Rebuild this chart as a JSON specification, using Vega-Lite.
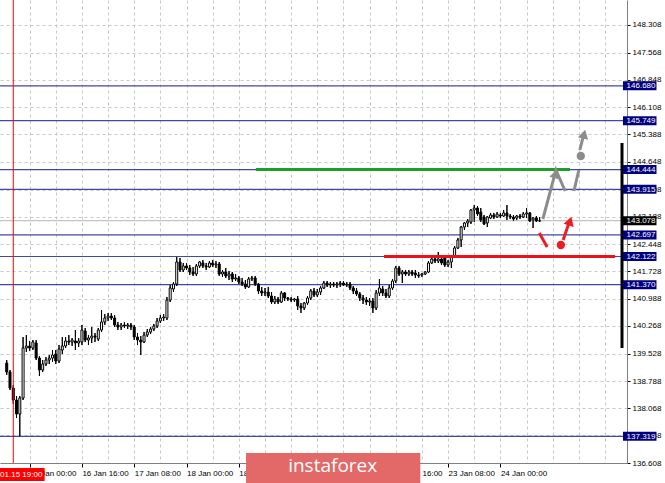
{
  "$schema": "https://vega.github.io/schema/vega-lite/v6.json",
  "width": 627,
  "height": 463,
  "autosize": {"type": "none"},
  "padding": {"left": 0, "top": 0, "right": 38, "bottom": 20},
  "background": "#ffffff",
  "config": {
    "view": {"stroke": null},
    "axis": {"labelFont": "Liberation Sans", "labelFontSize": 8, "labelColor": "#000000", "title": null}
  },
  "resolve": {"axis": {"x": "independent", "y": "independent"}, "scale": {"color": "independent", "fill": "independent"}},
  "datasets": {
    "candles": [
      {"t":-7,"o":139.278,"h":139.358,"l":138.958,"c":139.038},
      {"t":-6,"o":139.038,"h":139.091,"l":138.557,"c":138.611},
      {"t":-5,"o":138.611,"h":138.691,"l":138.183,"c":138.290},
      {"t":-4,"o":138.290,"h":138.397,"l":137.810,"c":137.916},
      {"t":-3,"o":137.916,"h":138.397,"l":137.319,"c":138.344},
      {"t":-2,"o":138.344,"h":139.972,"l":138.290,"c":139.678},
      {"t":-1,"o":139.678,"h":140.025,"l":139.572,"c":139.732},
      {"t":0,"o":139.732,"h":139.865,"l":139.598,"c":139.678},
      {"t":1,"o":139.678,"h":139.892,"l":139.625,"c":139.839},
      {"t":2,"o":139.812,"h":139.892,"l":139.358,"c":139.411},
      {"t":3,"o":139.411,"h":139.465,"l":138.931,"c":139.091},
      {"t":4,"o":139.091,"h":139.358,"l":139.038,"c":139.251},
      {"t":5,"o":139.251,"h":139.438,"l":139.198,"c":139.358},
      {"t":6,"o":139.358,"h":139.491,"l":139.251,"c":139.411},
      {"t":7,"o":139.411,"h":139.625,"l":139.305,"c":139.491},
      {"t":8,"o":139.518,"h":139.625,"l":139.251,"c":139.331},
      {"t":9,"o":139.331,"h":139.758,"l":139.278,"c":139.652},
      {"t":10,"o":139.625,"h":139.972,"l":139.518,"c":139.732},
      {"t":11,"o":139.732,"h":139.972,"l":139.678,"c":139.865},
      {"t":12,"o":139.865,"h":140.025,"l":139.758,"c":139.839},
      {"t":13,"o":139.839,"h":139.945,"l":139.732,"c":139.892},
      {"t":14,"o":139.865,"h":140.159,"l":139.625,"c":139.812},
      {"t":15,"o":139.812,"h":139.945,"l":139.705,"c":139.865},
      {"t":16,"o":139.839,"h":140.293,"l":139.758,"c":140.159},
      {"t":17,"o":140.132,"h":140.213,"l":139.839,"c":139.892},
      {"t":18,"o":139.892,"h":140.025,"l":139.758,"c":139.945},
      {"t":19,"o":139.945,"h":140.239,"l":139.812,"c":139.999},
      {"t":20,"o":139.999,"h":140.079,"l":139.839,"c":139.972},
      {"t":21,"o":139.919,"h":140.213,"l":139.865,"c":140.159},
      {"t":22,"o":140.159,"h":140.693,"l":140.106,"c":140.373},
      {"t":23,"o":140.373,"h":140.587,"l":140.293,"c":140.480},
      {"t":24,"o":140.480,"h":140.613,"l":140.400,"c":140.533},
      {"t":25,"o":140.533,"h":140.613,"l":140.426,"c":140.480},
      {"t":26,"o":140.480,"h":140.560,"l":140.239,"c":140.293},
      {"t":27,"o":140.293,"h":140.373,"l":140.159,"c":140.239},
      {"t":28,"o":140.239,"h":140.346,"l":140.159,"c":140.293},
      {"t":29,"o":140.293,"h":140.373,"l":140.213,"c":140.266},
      {"t":30,"o":140.266,"h":140.346,"l":140.186,"c":140.293},
      {"t":31,"o":140.293,"h":140.346,"l":140.159,"c":140.239},
      {"t":32,"o":140.239,"h":140.293,"l":139.892,"c":139.972},
      {"t":33,"o":139.972,"h":140.079,"l":139.758,"c":139.892},
      {"t":34,"o":139.892,"h":139.999,"l":139.491,"c":139.839},
      {"t":35,"o":139.839,"h":140.106,"l":139.812,"c":140.025},
      {"t":36,"o":140.025,"h":140.186,"l":139.972,"c":140.106},
      {"t":37,"o":140.106,"h":140.239,"l":140.052,"c":140.186},
      {"t":38,"o":140.186,"h":140.320,"l":140.132,"c":140.266},
      {"t":39,"o":140.266,"h":140.480,"l":140.213,"c":140.400},
      {"t":40,"o":140.400,"h":140.560,"l":140.346,"c":140.480},
      {"t":41,"o":140.480,"h":140.587,"l":140.400,"c":140.506},
      {"t":42,"o":140.480,"h":141.041,"l":140.426,"c":140.960},
      {"t":43,"o":140.960,"h":141.361,"l":140.907,"c":141.281},
      {"t":44,"o":141.254,"h":141.441,"l":141.174,"c":141.388},
      {"t":45,"o":141.388,"h":142.108,"l":141.334,"c":141.975},
      {"t":46,"o":141.975,"h":142.082,"l":141.708,"c":141.762},
      {"t":47,"o":141.762,"h":141.949,"l":141.708,"c":141.869},
      {"t":48,"o":141.869,"h":141.949,"l":141.762,"c":141.815},
      {"t":49,"o":141.815,"h":141.895,"l":141.628,"c":141.708},
      {"t":50,"o":141.708,"h":141.842,"l":141.602,"c":141.655},
      {"t":51,"o":141.655,"h":141.922,"l":141.602,"c":141.869},
      {"t":52,"o":141.869,"h":142.002,"l":141.815,"c":141.975},
      {"t":53,"o":141.949,"h":142.029,"l":141.815,"c":141.869},
      {"t":54,"o":141.869,"h":141.949,"l":141.762,"c":141.842},
      {"t":55,"o":141.842,"h":142.002,"l":141.815,"c":141.949},
      {"t":56,"o":141.949,"h":142.029,"l":141.842,"c":141.895},
      {"t":57,"o":141.895,"h":142.002,"l":141.815,"c":141.922},
      {"t":58,"o":141.922,"h":141.975,"l":141.602,"c":141.655},
      {"t":59,"o":141.655,"h":141.762,"l":141.575,"c":141.708},
      {"t":60,"o":141.708,"h":141.815,"l":141.548,"c":141.602},
      {"t":61,"o":141.602,"h":141.735,"l":141.494,"c":141.655},
      {"t":62,"o":141.655,"h":141.708,"l":141.441,"c":141.521},
      {"t":63,"o":141.521,"h":141.655,"l":141.468,"c":141.548},
      {"t":64,"o":141.548,"h":141.602,"l":141.388,"c":141.441},
      {"t":65,"o":141.441,"h":141.548,"l":141.334,"c":141.388},
      {"t":66,"o":141.388,"h":141.494,"l":141.254,"c":141.308},
      {"t":67,"o":141.308,"h":141.575,"l":141.281,"c":141.521},
      {"t":68,"o":141.521,"h":141.602,"l":141.468,"c":141.548},
      {"t":69,"o":141.548,"h":141.602,"l":141.334,"c":141.388},
      {"t":70,"o":141.388,"h":141.414,"l":141.121,"c":141.201},
      {"t":71,"o":141.201,"h":141.308,"l":141.067,"c":141.147},
      {"t":72,"o":141.147,"h":141.281,"l":141.067,"c":141.174},
      {"t":73,"o":141.174,"h":141.308,"l":141.014,"c":141.067},
      {"t":74,"o":141.067,"h":141.174,"l":140.854,"c":140.907},
      {"t":75,"o":140.907,"h":141.067,"l":140.854,"c":140.987},
      {"t":76,"o":140.987,"h":141.041,"l":140.854,"c":140.907},
      {"t":77,"o":140.907,"h":141.201,"l":140.880,"c":141.147},
      {"t":78,"o":141.147,"h":141.174,"l":140.934,"c":141.014},
      {"t":79,"o":141.014,"h":141.041,"l":140.934,"c":140.987},
      {"t":80,"o":140.987,"h":141.041,"l":140.907,"c":140.960},
      {"t":81,"o":140.960,"h":141.014,"l":140.907,"c":140.987},
      {"t":82,"o":140.987,"h":141.067,"l":140.693,"c":140.800},
      {"t":83,"o":140.800,"h":140.880,"l":140.613,"c":140.747},
      {"t":84,"o":140.747,"h":140.907,"l":140.693,"c":140.880},
      {"t":85,"o":140.880,"h":141.067,"l":140.827,"c":141.014},
      {"t":86,"o":141.014,"h":141.254,"l":140.960,"c":141.201},
      {"t":87,"o":141.201,"h":141.281,"l":141.041,"c":141.094},
      {"t":88,"o":141.094,"h":141.254,"l":141.041,"c":141.174},
      {"t":89,"o":141.174,"h":141.334,"l":141.094,"c":141.281},
      {"t":90,"o":141.281,"h":141.468,"l":141.254,"c":141.414},
      {"t":91,"o":141.414,"h":141.468,"l":141.308,"c":141.361},
      {"t":92,"o":141.361,"h":141.441,"l":141.281,"c":141.388},
      {"t":93,"o":141.388,"h":141.441,"l":141.308,"c":141.361},
      {"t":94,"o":141.361,"h":141.441,"l":141.281,"c":141.388},
      {"t":95,"o":141.388,"h":141.468,"l":141.308,"c":141.414},
      {"t":96,"o":141.414,"h":141.468,"l":141.334,"c":141.361},
      {"t":97,"o":141.361,"h":141.441,"l":141.308,"c":141.388},
      {"t":98,"o":141.388,"h":141.441,"l":141.227,"c":141.281},
      {"t":99,"o":141.281,"h":141.334,"l":141.121,"c":141.201},
      {"t":100,"o":141.201,"h":141.281,"l":141.067,"c":141.121},
      {"t":101,"o":141.121,"h":141.174,"l":140.934,"c":141.014},
      {"t":102,"o":141.014,"h":141.094,"l":140.854,"c":140.960},
      {"t":103,"o":140.960,"h":141.041,"l":140.827,"c":140.907},
      {"t":104,"o":140.907,"h":141.014,"l":140.800,"c":140.934},
      {"t":105,"o":140.934,"h":141.014,"l":140.613,"c":140.747},
      {"t":106,"o":140.747,"h":141.227,"l":140.693,"c":141.147},
      {"t":107,"o":141.147,"h":141.521,"l":141.067,"c":141.281},
      {"t":108,"o":141.254,"h":141.334,"l":141.067,"c":141.147},
      {"t":109,"o":141.147,"h":141.254,"l":141.014,"c":141.067},
      {"t":110,"o":141.067,"h":141.361,"l":141.014,"c":141.281},
      {"t":111,"o":141.281,"h":141.521,"l":141.227,"c":141.468},
      {"t":112,"o":141.468,"h":141.869,"l":141.414,"c":141.815},
      {"t":113,"o":141.815,"h":141.869,"l":141.602,"c":141.655},
      {"t":114,"o":141.655,"h":141.762,"l":141.414,"c":141.708},
      {"t":115,"o":141.708,"h":141.762,"l":141.602,"c":141.655},
      {"t":116,"o":141.655,"h":141.762,"l":141.602,"c":141.708},
      {"t":117,"o":141.708,"h":141.762,"l":141.602,"c":141.655},
      {"t":118,"o":141.682,"h":141.762,"l":141.548,"c":141.628},
      {"t":119,"o":141.628,"h":141.708,"l":141.548,"c":141.602},
      {"t":120,"o":141.628,"h":141.682,"l":141.575,"c":141.655},
      {"t":121,"o":141.655,"h":141.735,"l":141.628,"c":141.708},
      {"t":122,"o":141.708,"h":142.002,"l":141.682,"c":141.949},
      {"t":123,"o":141.949,"h":142.108,"l":141.922,"c":142.055},
      {"t":124,"o":142.055,"h":142.108,"l":141.949,"c":142.002},
      {"t":125,"o":142.002,"h":142.242,"l":141.949,"c":142.055},
      {"t":126,"o":142.055,"h":142.108,"l":141.895,"c":141.949},
      {"t":127,"o":142.082,"h":142.135,"l":141.842,"c":141.895},
      {"t":128,"o":141.895,"h":142.029,"l":141.842,"c":141.975},
      {"t":129,"o":141.975,"h":142.162,"l":141.815,"c":142.108},
      {"t":130,"o":142.108,"h":142.403,"l":142.082,"c":142.350},
      {"t":131,"o":142.350,"h":142.616,"l":142.323,"c":142.563},
      {"t":132,"o":142.563,"h":142.937,"l":142.376,"c":142.910},
      {"t":133,"o":142.910,"h":143.043,"l":142.830,"c":143.017},
      {"t":134,"o":143.017,"h":143.123,"l":142.910,"c":143.070},
      {"t":135,"o":143.043,"h":143.390,"l":142.990,"c":143.364},
      {"t":136,"o":143.364,"h":143.497,"l":143.043,"c":143.417},
      {"t":137,"o":143.417,"h":143.470,"l":143.203,"c":143.257},
      {"t":138,"o":143.310,"h":143.417,"l":143.043,"c":143.097},
      {"t":139,"o":143.177,"h":143.230,"l":142.963,"c":142.990},
      {"t":140,"o":143.017,"h":143.203,"l":142.910,"c":143.177},
      {"t":141,"o":143.150,"h":143.284,"l":143.123,"c":143.230},
      {"t":142,"o":143.230,"h":143.284,"l":143.123,"c":143.177},
      {"t":143,"o":143.177,"h":143.310,"l":143.150,"c":143.257},
      {"t":144,"o":143.230,"h":143.284,"l":143.150,"c":143.203},
      {"t":145,"o":143.203,"h":143.364,"l":143.177,"c":143.284},
      {"t":146,"o":143.284,"h":143.497,"l":143.097,"c":143.203},
      {"t":147,"o":143.203,"h":143.257,"l":143.123,"c":143.177},
      {"t":148,"o":143.177,"h":143.230,"l":143.070,"c":143.123},
      {"t":149,"o":143.150,"h":143.230,"l":143.097,"c":143.203},
      {"t":150,"o":143.203,"h":143.257,"l":143.123,"c":143.177},
      {"t":151,"o":143.177,"h":143.310,"l":143.150,"c":143.257},
      {"t":152,"o":143.257,"h":143.417,"l":143.150,"c":143.284},
      {"t":153,"o":143.284,"h":143.310,"l":143.043,"c":143.070},
      {"t":154,"o":143.097,"h":143.177,"l":142.883,"c":143.150},
      {"t":155,"o":143.150,"h":143.203,"l":143.043,"c":143.070},
      {"t":156,"o":143.070,"h":143.177,"l":143.043,"c":143.078}
    ],
    "levels": [
      {"price":146.680,"kind":"level"},
      {"price":145.749,"kind":"level"},
      {"price":144.444,"kind":"level"},
      {"price":143.915,"kind":"level"},
      {"price":142.697,"kind":"level"},
      {"price":142.122,"kind":"level"},
      {"price":141.370,"kind":"level"},
      {"price":137.319,"kind":"level"},
      {"price":143.078,"kind":"bid"}
    ],
    "segments": [
      {"name":"green","t1":69.2,"t2":165.3,"price":144.444},
      {"name":"red","t1":108.4,"t2":179.1,"price":142.122}
    ],
    "paths": [
      {"g":"gray1","i":0,"t":157.0,"p":143.123},
      {"g":"gray1","i":1,"t":161.0,"p":144.432},
      {"g":"gray1","i":2,"t":163.8,"p":143.871},
      {"g":"gray2","i":0,"t":166.5,"p":143.871},
      {"g":"gray2","i":1,"t":168.0,"p":144.432},
      {"g":"gray3","i":0,"t":168.3,"p":144.966},
      {"g":"gray3","i":1,"t":169.6,"p":145.420},
      {"g":"red1","i":0,"t":155.9,"p":142.749},
      {"g":"red1","i":1,"t":158.3,"p":142.376},
      {"g":"red2","i":0,"t":163.2,"p":142.563},
      {"g":"red2","i":1,"t":165.3,"p":143.100}
    ],
    "heads": [
      {"g":"gray","t":160.9,"p":144.33,"ang":15},
      {"g":"gray","t":169.6,"p":145.39,"ang":14},
      {"g":"red","t":165.3,"p":143.07,"ang":18}
    ],
    "dots": [
      {"g":"gray","t":168.6,"p":144.805},
      {"g":"red","t":162.5,"p":142.429}
    ]
  },
  "layer": [
    {
      "data": {"name": "candles"},
      "mark": {"type": "rule", "color": "#000000", "strokeWidth": 1},
      "encoding": {
        "x": {
          "field": "t", "type": "quantitative",
          "scale": {"domain": [-7.53, 181.2], "nice": false, "zero": false},
          "axis": {
            "orient": "bottom", "title": null,
            "values": [0,8,16,24,32,40,48,56,64,72,80,88,96,104,112,120,128,136,144,152,160,168,176],
            "grid": true, "gridColor": "#c8c8c8", "gridDash": [3,3], "gridWidth": 1,
            "tickSize": 4, "tickColor": "#000000",
            "tickOpacity": {"condition": {"test": "datum.value % 16 == 0 && datum.value <= 144", "value": 1}, "value": 0},
            "labelExpr": "datum.value==0?'16 Jan 00:00':datum.value==16?'16 Jan 16:00':datum.value==32?'17 Jan 08:00':datum.value==48?'18 Jan 00:00':datum.value==64?'18 Jan 16:00':datum.value==80?'21 Jan 08:00':datum.value==96?'22 Jan 00:00':datum.value==112?'22 Jan 16:00':datum.value==128?'23 Jan 08:00':datum.value==144?'24 Jan 00:00':''",
            "labelAlign": "left", "labelBaseline": "top", "labelPadding": 2,
            "domainColor": "#808080", "labelOverlap": false, "labelFlush": false, "labelBound": false
          }
        },
        "y": {
          "field": "l", "type": "quantitative",
          "scale": {"domain": [136.608, 148.971], "nice": false, "zero": false},
          "axis": {
            "orient": "right", "title": null,
            "values": [136.608,137.348,138.068,138.788,139.528,140.268,140.988,141.728,142.448,143.188,143.908,144.648,145.388,146.108,146.848,147.568,148.308],
            "format": ".3f",
            "grid": true, "gridColor": "#c8c8c8", "gridDash": [3,3], "gridWidth": 1,
            "tickSize": 3, "tickColor": "#000000", "labelPadding": 2, "labelBaseline": "middle",
            "domainColor": "#808080", "labelOverlap": false, "labelFlush": false, "labelBound": false
          }
        },
        "y2": {"field": "h"}
      }
    },
    {
      "data": {"name": "levels"},
      "mark": {"type": "rule", "strokeWidth": 1.2},
      "encoding": {
        "y": {"field": "price", "type": "quantitative", "scale": {"domain": [136.608, 148.971], "nice": false, "zero": false}, "axis": null},
        "color": {"field": "kind", "type": "nominal", "scale": {"domain": ["level","bid"], "range": ["#4646a6","#c4c4c4"]}, "legend": null}
      }
    },
    {
      "data": {"name": "candles"},
      "mark": {"type": "rule", "color": "#000000", "strokeWidth": 1},
      "encoding": {
        "x": {"field": "t", "type": "quantitative", "scale": {"domain": [-7.53, 181.2], "nice": false, "zero": false}, "axis": null},
        "y": {"field": "l", "type": "quantitative", "scale": {"domain": [136.608, 148.971], "nice": false, "zero": false}, "axis": null},
        "y2": {"field": "h"}
      }
    },
    {
      "data": {"name": "candles"},
      "mark": {"type": "bar", "size": 2, "stroke": "#000000", "strokeWidth": 1},
      "encoding": {
        "x": {"field": "t", "type": "quantitative", "scale": {"domain": [-7.53, 181.2], "nice": false, "zero": false}, "axis": null},
        "y": {"field": "o", "type": "quantitative", "scale": {"domain": [136.608, 148.971], "nice": false, "zero": false}, "axis": null},
        "y2": {"field": "c"},
        "fill": {"condition": {"test": "datum.c >= datum.o", "value": "#ffffff"}, "value": "#000000"}
      }
    },
    {
      "data": {"name": "segments"},
      "mark": {"type": "rule", "strokeWidth": 3},
      "encoding": {
        "x": {"field": "t1", "type": "quantitative", "scale": {"domain": [-7.53, 181.2], "nice": false, "zero": false}, "axis": null},
        "x2": {"field": "t2"},
        "y": {"field": "price", "type": "quantitative", "scale": {"domain": [136.608, 148.971], "nice": false, "zero": false}, "axis": null},
        "color": {"field": "name", "type": "nominal", "scale": {"domain": ["green","red"], "range": ["#1e9e28","#e8141c"]}, "legend": null}
      }
    },
    {
      "data": {"name": "paths"},
      "mark": {"type": "line", "strokeWidth": 3, "strokeCap": "butt"},
      "encoding": {
        "x": {"field": "t", "type": "quantitative", "scale": {"domain": [-7.53, 181.2], "nice": false, "zero": false}, "axis": null},
        "y": {"field": "p", "type": "quantitative", "scale": {"domain": [136.608, 148.971], "nice": false, "zero": false}, "axis": null},
        "detail": {"field": "g"},
        "order": {"field": "i"},
        "color": {"field": "g", "type": "nominal", "scale": {"domain": ["gray1","gray2","gray3","red1","red2"], "range": ["#8c8c8c","#8c8c8c","#8c8c8c","#ee1c25","#ee1c25"]}, "legend": null}
      }
    },
    {
      "data": {"name": "heads"},
      "mark": {"type": "point", "shape": "triangle-up", "filled": true, "opacity": 1, "size": 110},
      "encoding": {
        "x": {"field": "t", "type": "quantitative", "scale": {"domain": [-7.53, 181.2], "nice": false, "zero": false}, "axis": null},
        "y": {"field": "p", "type": "quantitative", "scale": {"domain": [136.608, 148.971], "nice": false, "zero": false}, "axis": null},
        "angle": {"field": "ang", "type": "quantitative", "scale": null},
        "color": {"field": "g", "type": "nominal", "scale": {"domain": ["gray","red"], "range": ["#8c8c8c","#ee1c25"]}, "legend": null}
      }
    },
    {
      "data": {"name": "dots"},
      "mark": {"type": "point", "shape": "circle", "filled": true, "opacity": 1, "size": 70},
      "encoding": {
        "x": {"field": "t", "type": "quantitative", "scale": {"domain": [-7.53, 181.2], "nice": false, "zero": false}, "axis": null},
        "y": {"field": "p", "type": "quantitative", "scale": {"domain": [136.608, 148.971], "nice": false, "zero": false}, "axis": null},
        "color": {"field": "g", "type": "nominal", "scale": {"domain": ["gray","red"], "range": ["#8c8c8c","#ee1c25"]}, "legend": null}
      }
    },
    {
      "data": {"values": [{"x": -5}]},
      "mark": {"type": "rule", "color": "#ff0000", "strokeWidth": 1},
      "encoding": {
        "x": {"field": "x", "type": "quantitative", "scale": {"domain": [-7.53, 181.2], "nice": false, "zero": false}, "axis": null}
      }
    },
    {
      "data": {"values": [{"a": 145.153, "b": 139.678}]},
      "mark": {"type": "rule", "color": "#000000", "strokeWidth": 3},
      "encoding": {
        "x": {"datum": 181.2, "type": "quantitative", "scale": {"domain": [-7.53, 181.2], "nice": false, "zero": false}, "axis": null},
        "y": {"field": "a", "type": "quantitative", "scale": {"domain": [136.608, 148.971], "nice": false, "zero": false}, "axis": null},
        "y2": {"field": "b"}
      }
    },
    {
      "data": {"name": "levels"},
      "mark": {"type": "rule", "strokeWidth": 9, "strokeCap": "butt"},
      "encoding": {
        "x": {"datum": 181.5, "type": "quantitative", "scale": {"domain": [-7.53, 181.2], "nice": false, "zero": false}, "axis": null},
        "x2": {"datum": 191.75},
        "y": {"field": "price", "type": "quantitative", "scale": {"domain": [136.608, 148.971], "nice": false, "zero": false}, "axis": null},
        "color": {"field": "kind", "type": "nominal", "scale": {"domain": ["level","bid"], "range": ["#00007e","#000000"]}, "legend": null}
      }
    },
    {
      "data": {"name": "levels"},
      "mark": {"type": "text", "align": "left", "baseline": "middle", "font": "Liberation Sans", "fontSize": 8, "color": "#ffffff", "dy": 0.5},
      "encoding": {
        "x": {"datum": 182.6, "type": "quantitative", "scale": {"domain": [-7.53, 181.2], "nice": false, "zero": false}, "axis": null},
        "y": {"field": "price", "type": "quantitative", "scale": {"domain": [136.608, 148.971], "nice": false, "zero": false}, "axis": null},
        "text": {"field": "price", "type": "quantitative", "format": ".3f"}
      }
    },
    {
      "data": {"values": [{"p": 136.301, "label": "2019.01.15 19:00"}]},
      "mark": {"type": "rule", "color": "#ff0000", "strokeWidth": 13, "strokeCap": "butt"},
      "encoding": {
        "x": {"datum": -13.5, "type": "quantitative", "scale": {"domain": [-7.53, 181.2], "nice": false, "zero": false}, "axis": null},
        "x2": {"datum": 4.6},
        "y": {"field": "p", "type": "quantitative", "scale": {"domain": [136.608, 148.971], "nice": false, "zero": false}, "axis": null}
      }
    },
    {
      "data": {"values": [{"p": 136.301, "label": "2019.01.15 19:00"}]},
      "mark": {"type": "text", "align": "right", "baseline": "middle", "font": "Liberation Sans", "fontSize": 8, "color": "#ffffff", "dy": 0.5},
      "encoding": {
        "x": {"datum": 3.9, "type": "quantitative", "scale": {"domain": [-7.53, 181.2], "nice": false, "zero": false}, "axis": null},
        "y": {"field": "p", "type": "quantitative", "scale": {"domain": [136.608, 148.971], "nice": false, "zero": false}, "axis": null},
        "text": {"field": "label"}
      }
    },
    {
      "data": {"values": [{"p": 136.4745, "label": "instaforex"}]},
      "mark": {"type": "rule", "color": "#e36868", "strokeWidth": 30, "strokeCap": "butt"},
      "encoding": {
        "x": {"datum": 66.2, "type": "quantitative", "scale": {"domain": [-7.53, 181.2], "nice": false, "zero": false}, "axis": null},
        "x2": {"datum": 119.5},
        "y": {"field": "p", "type": "quantitative", "scale": {"domain": [136.608, 148.971], "nice": false, "zero": false}, "axis": null}
      }
    },
    {
      "data": {"values": [{"p": 136.53, "label": "instaforex"}]},
      "mark": {"type": "text", "align": "center", "baseline": "middle", "font": "Open Sans", "fontSize": 19, "color": "#ffffff"},
      "encoding": {
        "x": {"datum": 92.7, "type": "quantitative", "scale": {"domain": [-7.53, 181.2], "nice": false, "zero": false}, "axis": null},
        "y": {"field": "p", "type": "quantitative", "scale": {"domain": [136.608, 148.971], "nice": false, "zero": false}, "axis": null},
        "text": {"field": "label"}
      }
    }
  ]
}
